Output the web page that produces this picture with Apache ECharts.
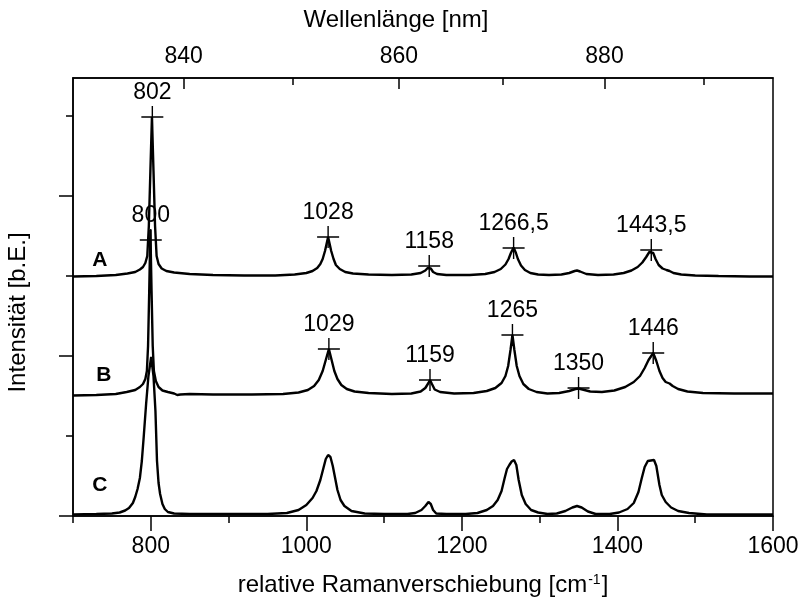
<!DOCTYPE html>
<html><head><meta charset="utf-8">
<script src="https://cdn.jsdelivr.net/npm/echarts@6/dist/echarts.min.js"></script>
<style>html,body{margin:0;padding:0;background:#fff}#c{width:802px;height:602px}</style>
</head><body><div id="c"></div>
<script>
const FONT = "'Liberation Sans', Arial, sans-serif";
const LAMBDA0 = 784.5; // excitation wavelength, nm

// axis ticks / labels
const bottomLabels = [800, 1000, 1200, 1400, 1600];
const bottomMinorTicks = [700, 900, 1100, 1300, 1500];
const topLabels = [840, 860, 880];
const topMinorTicks = [850, 870, 890];
const yMajorTicks = [0, 160, 320];
const yMinorTicks = [80, 240, 400];

// spectra [Raman shift, intensity]
const spectrumA = [[700,239.5],[730,240],[755,241],[770,242.5],[780,244],[786,246.5],[790,249],[793,253],[795.5,260],[797.5,290],[799.5,345],[801.5,399],[803.5,345],[805.5,290],[807.5,260],[810,252],[814,247.5],[820,245],[830,243.5],[850,242],[880,241],[920,240.5],[960,240.5],[985,241.5],[1000,243],[1008,245],[1014,248],[1018,252],[1021,257],[1024,265],[1026,272],[1028,279],[1030,272],[1032,265],[1035,257],[1038,251],[1043,247],[1050,244],[1060,242.5],[1080,241.5],[1110,241],[1135,241.5],[1147,243],[1153,245.5],[1156,248],[1158,250],[1160,247.5],[1163,244],[1168,242],[1180,241],[1210,241],[1230,242],[1242,244],[1250,247],[1256,251.5],[1260,257],[1263,263],[1266.5,268.5],[1269.5,263],[1272,257],[1276,250.5],[1281,246],[1288,243],[1298,241.5],[1312,241],[1328,241.5],[1338,243],[1345,245],[1348,245.5],[1352,244.5],[1360,242],[1375,241],[1395,241.5],[1408,243],[1418,245.5],[1426,249],[1432,253.5],[1437,259],[1441,264],[1443.5,266],[1446,263],[1449,257],[1453,251],[1458,247.5],[1463,246],[1467,245],[1472,243],[1482,241.5],[1500,240.5],[1530,240],[1570,239.5],[1600,239.5]];
const spectrumB = [[700,120.5],[730,121],[755,122],[769,124],[780,126],[786,129],[790,132],[793,137],[795,145],[796.5,170],[798,225],[799.5,286],[801,225],[802.5,170],[804,145],[806.5,135],[810,129],[815,125.5],[822,124],[830,122.5],[834,121],[836,119.5],[838,121.5],[850,122],[880,121.5],[930,121.5],[970,122],[990,123.5],[1002,126],[1010,130],[1016,136],[1021,145],[1025,156],[1029,167],[1032.5,156],[1036,145],[1040,137],[1045,131],[1052,127],[1062,124.5],[1080,123],[1110,122],[1135,122.5],[1147,124.5],[1153,128],[1157,133],[1159,136],[1161.5,132],[1165,126.5],[1172,124],[1190,122.5],[1215,123],[1232,125],[1243,128],[1251,133],[1256,140],[1259.5,150],[1262.5,166],[1265,181],[1267.5,166],[1270.5,150],[1274,140],[1279,132],[1286,127],[1296,124],[1310,122.5],[1325,123],[1338,125],[1346,127],[1350,127.5],[1355,126.5],[1365,124.5],[1380,124],[1396,125.5],[1410,129],[1421,134],[1429,140],[1435,148],[1440,156],[1446,163],[1450,155],[1454,145],[1458,138],[1462,134],[1467,132.5],[1471,130],[1478,127],[1490,124.5],[1510,123],[1550,122.5],[1600,122.5]];
const spectrumC = [[700,1.5],[730,2],[750,2.5],[760,3.5],[767,5.5],[772,8],[777,13],[780,19],[783,27],[786,38],[788.5,55],[791,80],[794,112],[797,140],[800.5,159],[803.5,140],[806,105],[808,55],[810,33],[812,22],[815,12],[818,7],[822,4],[830,2.5],[850,2],[900,2],[950,2],[975,3],[990,6],[1000,11],[1008,18],[1013,25],[1018,36],[1022,48],[1025,57],[1028,61],[1031,59],[1034,50],[1037,38],[1040,26],[1044,16],[1049,10],[1058,5],[1075,2.5],[1100,2],[1130,2],[1140,3],[1148,6],[1153,10],[1157,14],[1160,12],[1163,6],[1167,2.5],[1180,2],[1205,2],[1220,3],[1232,6],[1240,10],[1246,16],[1251,25],[1255,38],[1258,47],[1261,51],[1264,54.5],[1267,56],[1270,51],[1273,36],[1277,21],[1282,12],[1289,6],[1298,3.5],[1310,2],[1322,2.5],[1333,5],[1342,8.5],[1348,10],[1354,8.5],[1362,4.5],[1372,2],[1390,2],[1402,3.5],[1413,7],[1421,13],[1427,24],[1431,37],[1435,49],[1439,55],[1443,55.5],[1447,56],[1450,50],[1454,31],[1457,21],[1462,14],[1469,8.5],[1478,5],[1492,3],[1515,1.5],[1560,1.5],[1600,1.5]];

// peak markers
const peaksAX = [802, 1028, 1158, 1266.5, 1443.5];
const peaksAY = [399, 279, 250, 268, 266];
const peaksAText = ['802', '1028', '1158', '1266,5', '1443,5'];
const peaksBX = [800, 1029, 1159, 1265, 1350, 1446];
const peaksBY = [276, 167, 136, 181, 128, 163];
const peaksBText = ['800', '1029', '1159', '1265', '1350', '1446'];

// curve letters
const curveNames = ['A', 'B', 'C'];
const curveNameX = [734.4, 739.8, 734.4];
const curveNameY = [256, 140.5, 31];

const toShift = nm => 1e7 / LAMBDA0 - 1e7 / nm;
const toNm = s => 1e7 / (1e7 / LAMBDA0 - s);

const black = '#000';
const axisLineStyle = { color: black, width: 1.5 };
const txt = { color: black, fontFamily: FONT, opacity: 1 };

const chart = echarts.init(document.getElementById('c'));
const lineSeries = (name, data) => ({
  name, type: 'line', data, xAxisIndex: 0, yAxisIndex: 0,
  symbol: 'none', showSymbol: false, silent: true,
  lineStyle: { color: black, width: 2.4 }, z: 3
});
const peakSeries = (xs, ys, texts) => ({
  type: 'scatter', xAxisIndex: 0, yAxisIndex: 0, silent: true, z: 4,
  symbol: 'path://M10,0L10,20M0,10L20,10', symbolSize: 22,
  itemStyle: { color: 'rgba(0,0,0,0)', borderColor: black, borderWidth: 1.4, opacity: 1 },
  label: { show: true, position: 'top', distance: 1, formatter: p => p.name,
           fontSize: 23, ...txt },
  data: xs.map((x, i) => ({ name: texts[i], value: [x, ys[i]] }))
});

chart.setOption({
  animation: false,
  backgroundColor: '#fff',
  grid: { left: 73, right: 29, top: 78, bottom: 86, show: true, borderColor: black,
          borderWidth: 1.5, containLabel: false, outerBoundsMode: 'none' },
  xAxis: [
    { type: 'value', position: 'bottom', min: 700, max: 1600,
      axisLine: { show: true, lineStyle: axisLineStyle },
      axisTick: { show: true, customValues: bottomLabels, length: 15, lineStyle: axisLineStyle },
      axisLabel: { show: true, customValues: bottomLabels, margin: 19, fontSize: 23, ...txt,
                   formatter: v => String(v) },
      splitLine: { show: false },
      name: 'relative Ramanverschiebung [cm{sup|-1}]', nameLocation: 'middle', nameGap: 57,
      nameTextStyle: { fontSize: 24, ...txt, rich: { sup: { fontSize: 14, padding: [0, 1, 11, 1], ...txt } } } },
    { type: 'value', position: 'bottom', min: 700, max: 1600,
      axisLine: { show: false },
      axisTick: { show: true, customValues: bottomMinorTicks, length: 7, lineStyle: axisLineStyle },
      axisLabel: { show: false }, splitLine: { show: false } },
    { type: 'value', position: 'top', min: 700, max: 1600,
      axisLine: { show: true, lineStyle: axisLineStyle },
      axisTick: { show: true, inside: true, customValues: topLabels.map(toShift), length: 11, lineStyle: axisLineStyle },
      axisLabel: { show: true, customValues: topLabels.map(toShift), margin: 10, fontSize: 23, ...txt,
                   formatter: v => String(Math.round(toNm(v))) },
      splitLine: { show: false },
      name: 'Wellenlänge [nm]', nameLocation: 'middle', nameGap: 46,
      nameTextStyle: { fontSize: 24, ...txt, padding: [0, 54, 0, 0] } },
    { type: 'value', position: 'top', min: 700, max: 1600,
      axisLine: { show: false },
      axisTick: { show: true, inside: true, customValues: topMinorTicks.map(toShift), length: 7, lineStyle: axisLineStyle },
      axisLabel: { show: false }, splitLine: { show: false } }
  ],
  yAxis: [
    { type: 'value', position: 'left', min: 0, max: 438,
      axisLine: { show: true, lineStyle: axisLineStyle },
      axisTick: { show: true, customValues: yMajorTicks, length: 14, lineStyle: axisLineStyle },
      axisLabel: { show: false }, splitLine: { show: false },
      name: 'Intensität [b.E.]', nameLocation: 'middle', nameGap: 43,
      nameTextStyle: { fontSize: 24, ...txt, padding: [0, 31, 0, 0] } },
    { type: 'value', position: 'left', min: 0, max: 438,
      axisLine: { show: false },
      axisTick: { show: true, customValues: yMinorTicks, length: 7, lineStyle: axisLineStyle },
      axisLabel: { show: false }, splitLine: { show: false } }
  ],
  series: [
    lineSeries('A', spectrumA),
    lineSeries('B', spectrumB),
    lineSeries('C', spectrumC),
    peakSeries(peaksAX, peaksAY, peaksAText),
    peakSeries(peaksBX, peaksBY, peaksBText),
    { type: 'scatter', xAxisIndex: 0, yAxisIndex: 0, silent: true, z: 5,
      symbolSize: 1, itemStyle: { color: 'rgba(0,0,0,0)', opacity: 1 },
      label: { show: true, position: 'inside', formatter: p => p.name,
               fontSize: 21, fontWeight: 'bold', ...txt },
      data: curveNames.map((n, i) => ({ name: n, value: [curveNameX[i], curveNameY[i]] })) }
  ]
});
</script></body></html>
